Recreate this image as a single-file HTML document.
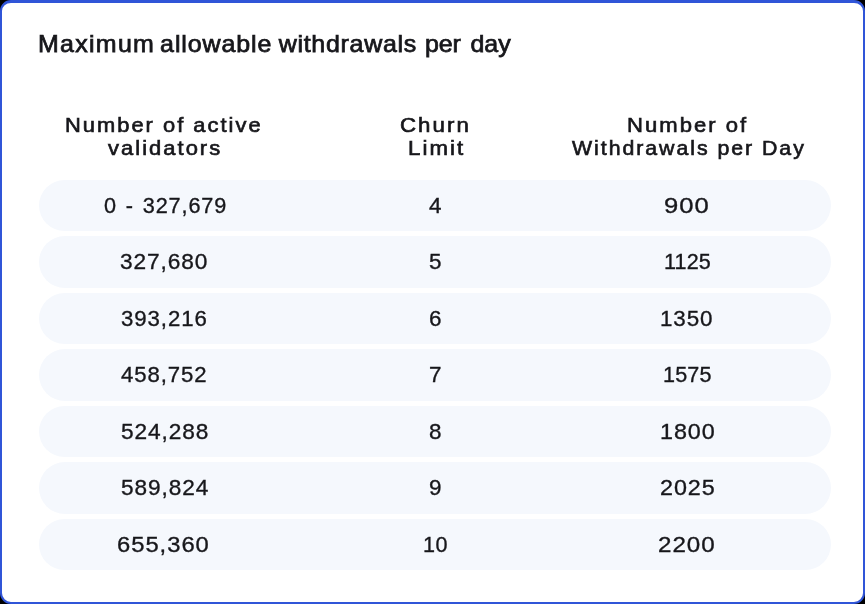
<!DOCTYPE html>
<html><head><meta charset="utf-8"><title>Maximum allowable withdrawals per day</title>
<style>
html,body{margin:0;padding:0;background:#000;}
body{width:865px;height:604px;overflow:hidden;position:relative;font-family:"Liberation Sans",sans-serif;color:#17171b;}
.card{position:absolute;left:0;top:0;width:865px;height:604px;box-sizing:border-box;background:#fff;border:solid #3055d8;border-width:3.3px 2.4px 2.5px 2.3px;border-radius:11px;}
.title{position:absolute;left:38px;top:29px;font-size:24px;line-height:30px;white-space:nowrap;-webkit-text-stroke:0.75px #17171b;transform:scaleX(1.04);transform-origin:0 50%;}
.h{position:absolute;font-size:20.5px;line-height:24px;white-space:nowrap;-webkit-text-stroke:0.65px #17171b;transform:scaleX(1.06);transform-origin:0 50%;}
.title,.h,.row{filter:blur(0.4px);}
.row{position:absolute;left:39px;width:791.5px;height:51.5px;border-radius:26px;background:#f5f8fd;}
.c{position:absolute;top:0;height:51.5px;line-height:51.5px;font-size:22px;white-space:nowrap;-webkit-text-stroke:0.35px #17171b;transform:scaleX(1.02);transform-origin:0 50%;}
</style></head><body>
<div class="card"></div>
<div class="title"><span style="letter-spacing:1.23px;margin-left:0.00px">Maximum</span> <span style="letter-spacing:0.86px;margin-left:-1.90px">allowable</span> <span style="letter-spacing:0.70px;margin-left:-0.50px">withdrawals</span> <span style="letter-spacing:-0.05px;margin-left:0.90px">per</span> <span style="letter-spacing:-0.04px;margin-left:2.60px">day</span></div>
<div class="h" style="left:65.3px;top:112.9px;letter-spacing:1.90px;transform:scaleX(1.066)">Number of active</div>
<div class="h" style="left:107.9px;top:136.3px;letter-spacing:1.90px;transform:scaleX(1.070)">validators</div>
<div class="h" style="left:400.3px;top:112.9px;letter-spacing:1.90px;transform:scaleX(1.085)">Churn</div>
<div class="h" style="left:407.8px;top:136.3px;letter-spacing:1.90px;transform:scaleX(1.086)">Limit</div>
<div class="h" style="left:627.4px;top:112.9px;letter-spacing:1.90px;transform:scaleX(1.075)">Number of</div>
<div class="h" style="left:572.0px;top:136.3px;letter-spacing:1.90px;transform:scaleX(1.038)">Withdrawals per Day</div>
<div class="row" style="top:179.8px"><div class="c" style="left:64.6px;letter-spacing:0.90px;transform:scaleX(0.984);word-spacing:2.0px">0 - 327,679</div><div class="c" style="left:389.5px;letter-spacing:0.15px;transform:scaleX(1.020)">4</div><div class="c" style="left:624.6px;letter-spacing:0.90px;transform:scaleX(1.164)">900</div></div>
<div class="row" style="top:236.2px"><div class="c" style="left:81.3px;letter-spacing:0.90px;transform:scaleX(1.030)">327,680</div><div class="c" style="left:389.9px;letter-spacing:0.15px;transform:scaleX(1.020)">5</div><div class="c" style="left:624.7px;letter-spacing:0.15px;transform:scaleX(0.980)">1125</div></div>
<div class="row" style="top:292.7px"><div class="c" style="left:81.9px;letter-spacing:0.90px;transform:scaleX(1.010)">393,216</div><div class="c" style="left:389.6px;letter-spacing:0.15px;transform:scaleX(1.020)">6</div><div class="c" style="left:620.7px;letter-spacing:0.90px;transform:scaleX(1.018)">1350</div></div>
<div class="row" style="top:349.2px"><div class="c" style="left:82.1px;letter-spacing:0.90px;transform:scaleX(1.007)">458,752</div><div class="c" style="left:389.6px;letter-spacing:0.15px;transform:scaleX(1.020)">7</div><div class="c" style="left:624.0px;letter-spacing:0.15px;transform:scaleX(0.980)">1575</div></div>
<div class="row" style="top:405.6px"><div class="c" style="left:82.1px;letter-spacing:0.90px;transform:scaleX(1.030)">524,288</div><div class="c" style="left:390.0px;letter-spacing:0.15px;transform:scaleX(1.020)">8</div><div class="c" style="left:621.0px;letter-spacing:0.90px;transform:scaleX(1.061)">1800</div></div>
<div class="row" style="top:462.1px"><div class="c" style="left:82.0px;letter-spacing:0.90px;transform:scaleX(1.027)">589,824</div><div class="c" style="left:389.5px;letter-spacing:0.15px;transform:scaleX(1.020)">9</div><div class="c" style="left:621.0px;letter-spacing:0.90px;transform:scaleX(1.061)">2025</div></div>
<div class="row" style="top:518.5px"><div class="c" style="left:78.2px;letter-spacing:0.90px;transform:scaleX(1.081)">655,360</div><div class="c" style="left:384.1px;letter-spacing:0.44px;transform:scaleX(0.980)">10</div><div class="c" style="left:619.1px;letter-spacing:0.90px;transform:scaleX(1.099)">2200</div></div>
</body></html>
